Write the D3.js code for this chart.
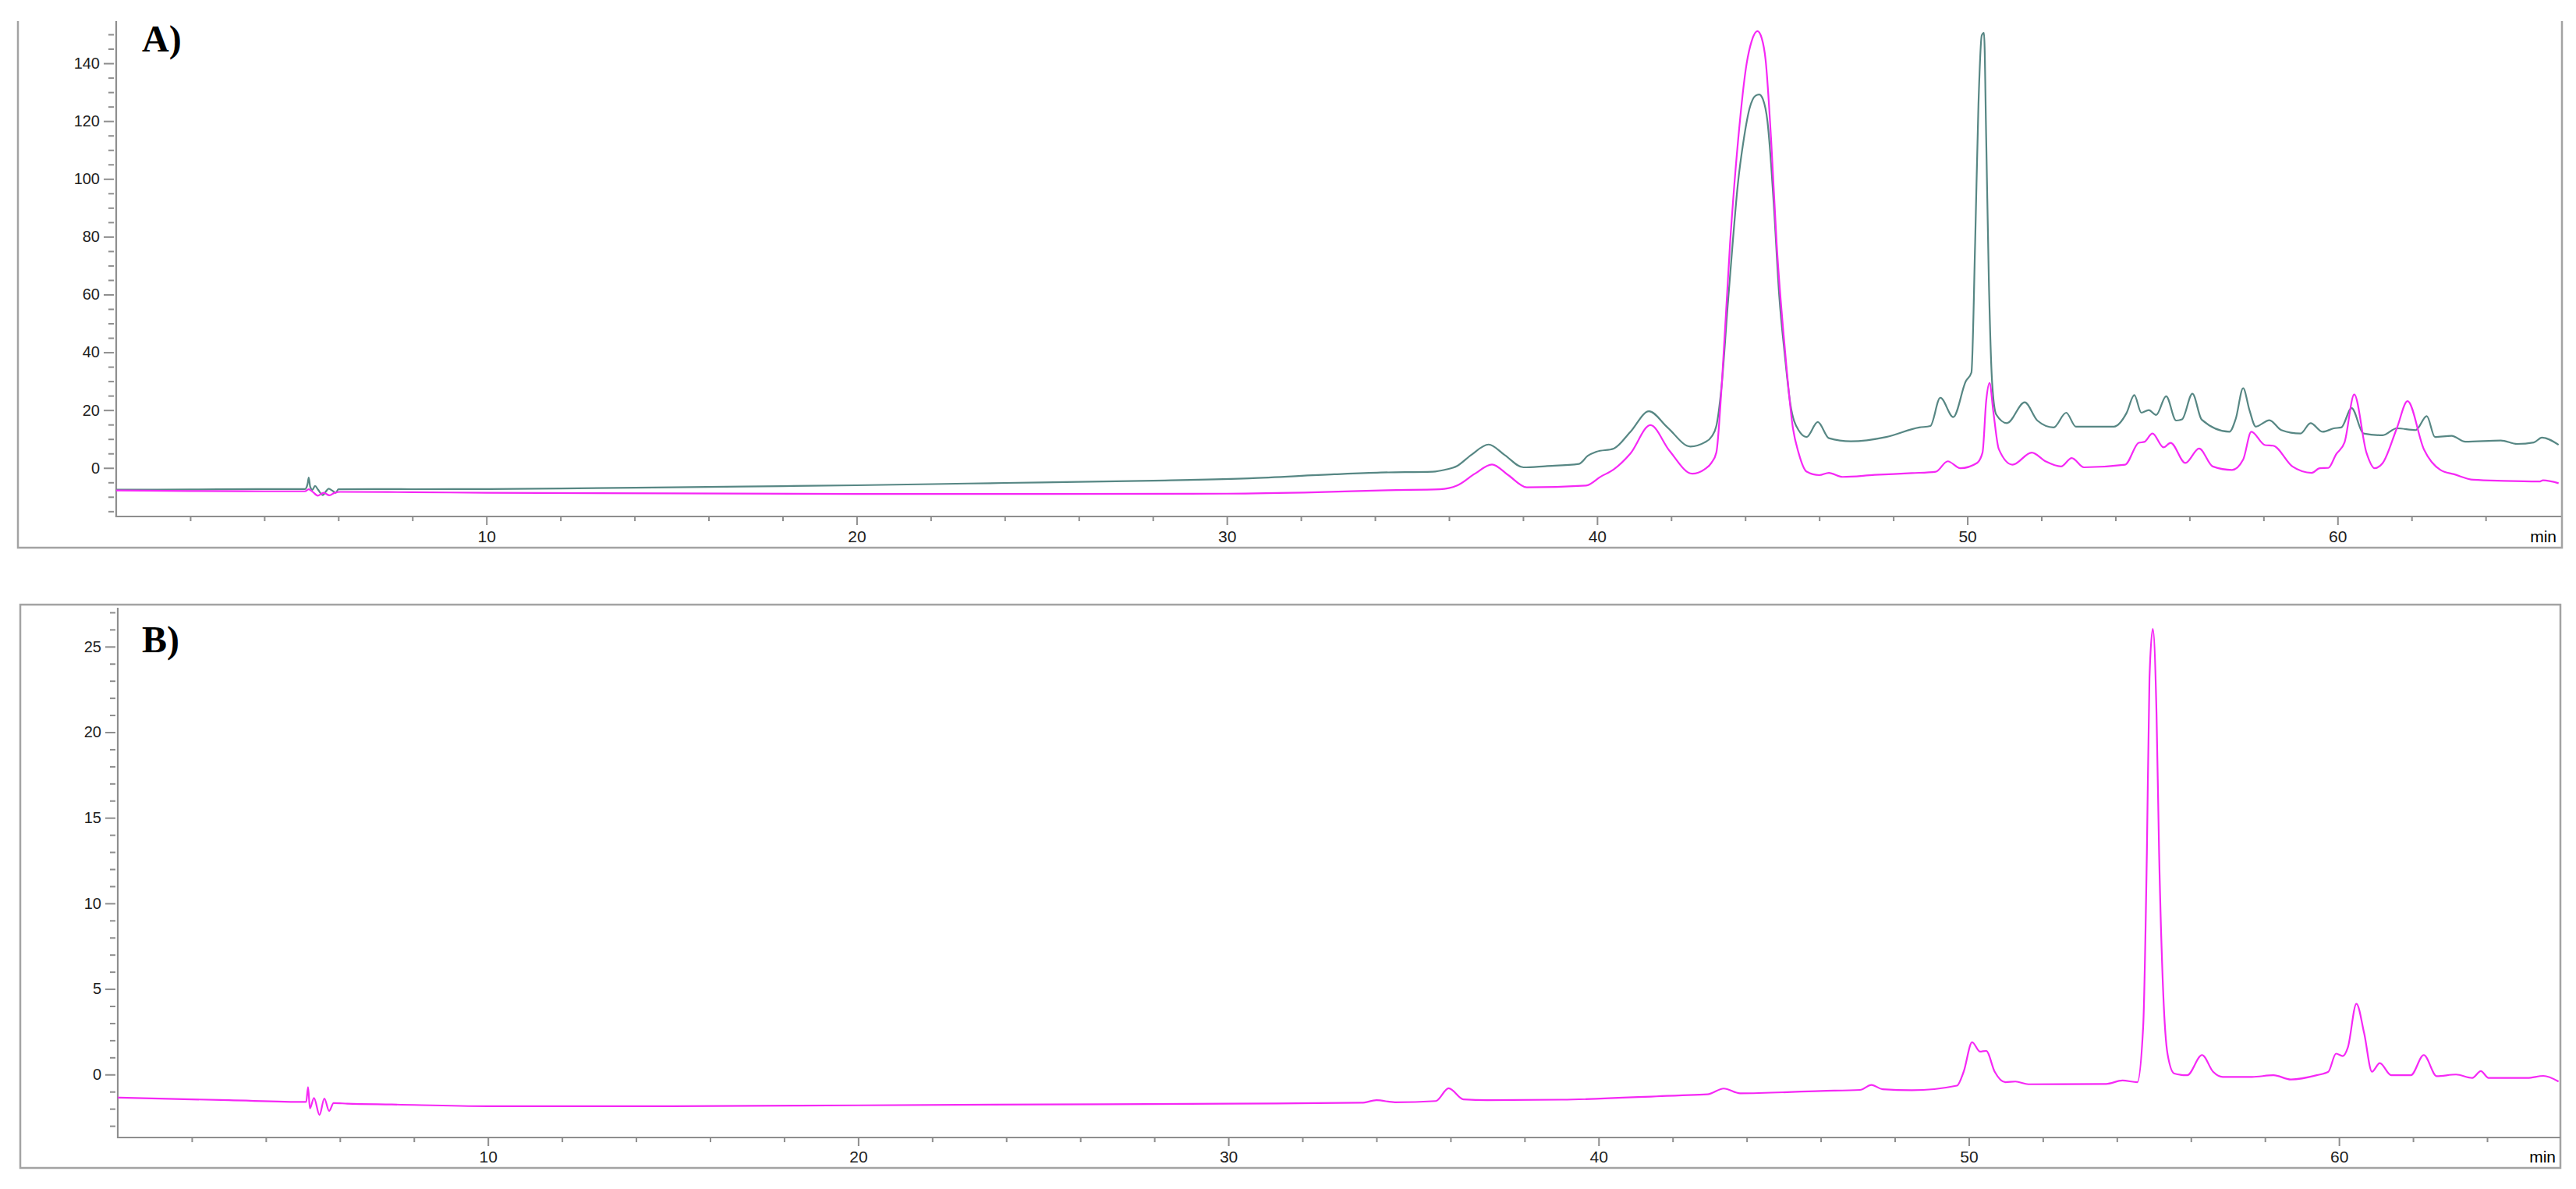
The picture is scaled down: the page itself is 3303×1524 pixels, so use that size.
<!DOCTYPE html>
<html>
<head>
<meta charset="utf-8">
<script src="https://cdn.jsdelivr.net/npm/d3@7"></script>
<style>
  body { margin: 0; background: #fff; }
  svg { display: block; }
</style>
</head>
<body>
<script>
// chromatogram A, teal trace [min, value]
var traceA_teal = [[0,-7.5],[2,-7.45],[4,-7.3],[5.1,-7.3],[5.17,-5.5],[5.2,-3.3],[5.24,-6.5],[5.3,-7.6],[5.37,-6.2],[5.45,-7.5],[5.58,-9.4],[5.66,-8.2],[5.74,-7.2],[5.83,-7.8],[5.93,-8.6],[6.0,-7.4],[7,-7.3],[8,-7.35],[10,-7.3],[12,-7.1],[15,-6.7],[18,-6.3],[20,-6.0],[23,-5.4],[25,-5.0],[28,-4.4],[30.6,-3.6],[32.9,-2.2],[34.15,-1.6],[35.56,-1.3],[35.9,-0.6],[36.22,0.7],[36.6,4.5],[37.07,8.1],[37.5,4.5],[38.01,0.2],[38.6,0.6],[39.51,1.4],[39.75,4.2],[39.98,5.6],[40.45,6.7],[40.9,12.5],[41.4,19.6],[41.9,14],[42.52,7.4],[42.9,8.8],[43.09,10.8],[43.22,14.5],[43.37,29.4],[43.52,55],[43.66,77.5],[43.8,98],[43.96,113.6],[44.12,124.5],[44.28,128.8],[44.38,129.2],[44.48,127.5],[44.6,120],[44.7,105],[44.78,89.5],[44.92,59.4],[45.07,39],[45.22,22.1],[45.44,13.1],[45.66,10.7],[45.96,15.9],[46.26,10.3],[46.85,9.2],[47.81,10.7],[48.7,14],[49.0,14.5],[49.27,24.3],[49.62,17.6],[49.96,30],[50.11,33],[50.21,77.5],[50.3,125.6],[50.39,149.7],[50.45,150.5],[50.51,113.6],[50.58,65.5],[50.67,29.4],[50.78,18.5],[51.07,15.5],[51.55,22.7],[51.89,16.4],[52.33,14],[52.67,19.1],[52.93,14.3],[53.96,14.3],[54.3,19],[54.51,25.2],[54.7,19.1],[54.9,20],[55.1,18.3],[55.37,24.8],[55.64,16.4],[55.8,16.8],[56.08,25.7],[56.33,16.7],[57.08,12.5],[57.25,17],[57.45,27.6],[57.62,20],[57.79,14.3],[58.16,16.5],[58.48,13.1],[59.0,11.9],[59.27,15.5],[59.6,12.5],[59.9,13.7],[60.1,14],[60.38,20.7],[60.7,11.9],[61.22,11.3],[61.6,13.7],[62.11,13.1],[62.41,17.9],[62.63,10.7],[63.08,11.1],[63.45,9.1],[64.41,9.5],[64.85,8.3],[65.3,8.8],[65.52,10.5],[65.97,8.0]];

// chromatogram A, magenta trace
var traceA_magenta = [[0,-7.8],[2,-8.0],[4,-8.1],[5.1,-8.1],[5.2,-7.4],[5.3,-8.2],[5.45,-9.6],[5.6,-8.6],[5.76,-9.5],[5.9,-8.6],[6.05,-8.3],[8,-8.4],[10,-8.6],[15,-8.8],[20,-9.0],[25,-9.0],[30,-8.9],[32.46,-8.4],[34.34,-7.7],[35.75,-7.4],[36.22,-6.1],[36.7,-2],[37.16,1.2],[37.6,-2.5],[38.1,-6.7],[39.7,-6.1],[40.1,-3],[40.45,-0.5],[40.9,5],[41.44,14.8],[41.95,6],[42.57,-2.0],[42.9,-0.5],[43.09,1.8],[43.22,5.3],[43.37,29.4],[43.59,77.5],[43.81,113.6],[44.04,140],[44.17,147.5],[44.33,151.1],[44.45,148.5],[44.55,141.3],[44.7,113.6],[44.85,77.5],[45.07,41.4],[45.29,13.7],[45.44,5.3],[45.66,-1.3],[46.0,-2.5],[46.26,-1.7],[46.63,-3.1],[47.5,-2.4],[48.5,-1.8],[49.15,-1.3],[49.47,2.3],[49.81,-0.1],[50.26,1.7],[50.41,5.3],[50.51,23.3],[50.6,29.4],[50.7,19.7],[50.85,6.5],[51.22,1.1],[51.74,5.3],[52.11,2.3],[52.53,0.5],[52.82,3.4],[53.15,0.2],[54.26,1.1],[54.63,8.7],[54.78,9],[55.0,11.9],[55.3,7.1],[55.49,8.7],[55.89,1.7],[56.26,6.7],[56.63,0.5],[57.15,-0.7],[57.45,2.9],[57.67,12.5],[58.04,7.9],[58.26,7.7],[58.78,0.5],[59.3,-1.7],[59.52,-0.1],[59.75,0],[59.96,4.7],[60.19,8.9],[60.45,25.4],[60.78,5.3],[61.0,-0.1],[61.22,1.7],[61.6,13.7],[61.89,23.1],[62.33,6.5],[62.78,-0.7],[63.15,-2.2],[63.67,-4.1],[64.5,-4.5],[65.45,-4.7],[65.55,-4.3],[65.97,-5.3]];

// chromatogram B, magenta trace
var traceB_magenta = [[0,-1.35],[3,-1.5],[5.09,-1.6],[5.14,-0.73],[5.19,-1.98],[5.3,-1.37],[5.45,-2.36],[5.58,-1.4],[5.71,-2.13],[5.83,-1.67],[6.2,-1.7],[7.4,-1.75],[10,-1.85],[15,-1.85],[20,-1.8],[25,-1.75],[30,-1.7],[33.6,-1.65],[34.0,-1.5],[34.5,-1.62],[35.6,-1.55],[35.95,-0.8],[36.35,-1.45],[37,-1.5],[39.0,-1.47],[42.16,-1.22],[42.94,-1.16],[43.38,-0.82],[43.82,-1.1],[46.0,-0.96],[47.06,-0.9],[47.37,-0.61],[47.67,-0.86],[48.46,-0.92],[49.68,-0.65],[49.86,0.16],[50.09,1.89],[50.3,1.34],[50.47,1.38],[50.7,0.16],[50.99,-0.45],[51.26,-0.41],[51.61,-0.57],[53.71,-0.55],[54.15,-0.35],[54.55,-0.45],[54.71,2.8],[54.81,12.97],[54.88,23.14],[54.97,26.03],[55.07,21.11],[55.14,12.97],[55.25,4.84],[55.37,1.18],[55.55,0.06],[55.9,-0.04],[56.3,1.14],[56.6,0.16],[56.86,-0.14],[57.65,-0.14],[58.23,-0.04],[58.7,-0.29],[59.4,-0.04],[59.71,0.16],[59.92,1.22],[60.1,1.08],[60.24,1.59],[60.47,4.13],[60.68,2.4],[60.89,0.16],[61.1,0.67],[61.41,-0.04],[61.94,-0.04],[62.29,1.14],[62.64,-0.1],[63.16,0.0],[63.6,-0.2],[63.83,0.2],[64.04,-0.2],[65.09,-0.2],[65.52,-0.08],[65.93,-0.41]];

var xMajorTicks = [10, 20, 30, 40, 50, 60];
var xMinorTicks = [2, 4, 6, 8, 12, 14, 16, 18, 22, 24, 26, 28, 32, 34, 36, 38, 42, 44, 46, 48, 52, 54, 56, 58, 62, 64];
var yMajorTicksA = [0, 20, 40, 60, 80, 100, 120, 140];
var yMinorTicksA = [-15, -10, -5, 5, 10, 15, 25, 30, 35, 45, 50, 55, 65, 70, 75, 85, 90, 95, 105, 110, 115, 125, 130, 135, 145, 150];
var yMajorTicksB = [0, 5, 10, 15, 20, 25];
var yMinorTicksB = [-3, -2, -1, 1, 2, 3, 4, 6, 7, 8, 9, 11, 12, 13, 14, 16, 17, 18, 19, 21, 22, 23, 24, 26, 27];

var W = 3303, H = 1524;
var frameColor = "#a3a3a3", axisColor = "#8e8e8e";
var tealColor = "#578784", magentaColor = "#f528f5";

var svg = d3.select("body").append("svg")
  .attr("width", W)
  .attr("height", H)
  .style("background", "#fff");

function drawPanel(p) {
  var g = svg.append("g");

  // outer frame (panel A has its top edge cut off)
  var fr = p.frame;
  var framePath = fr.top == null
    ? "M" + fr.left + "," + fr.topOpen + "V" + fr.bottom + "H" + fr.right + "V" + fr.topOpen
    : "M" + fr.left + "," + fr.top + "V" + fr.bottom + "H" + fr.right + "V" + fr.top + "Z";
  g.append("path")
    .attr("d", framePath)
    .attr("fill", "none")
    .attr("stroke", frameColor)
    .attr("stroke-width", 2.5);

  var x = d3.scaleLinear().domain(p.xDomain).range([p.left, p.right]);
  var y = d3.scaleLinear().domain(p.yDomain).range([p.bottom, p.top]);

  // axis lines
  g.append("path")
    .attr("d", "M" + p.left + "," + p.top + "V" + p.bottom + "H" + p.right)
    .attr("fill", "none")
    .attr("stroke", axisColor)
    .attr("stroke-width", 2.2);

  // y ticks
  var yMinor = g.append("g").attr("transform", "translate(" + (p.left - 3) + ",0)")
    .call(d3.axisLeft(y).tickValues(p.yMinor).tickSize(7).tickFormat(""));
  var yMajor = g.append("g").attr("transform", "translate(" + (p.left - 3) + ",0)")
    .call(d3.axisLeft(y).tickValues(p.yMajor).tickSize(13).tickPadding(5));

  // x ticks
  var xMinor = g.append("g").attr("transform", "translate(0," + p.bottom + ")")
    .call(d3.axisBottom(x).tickValues(xMinorTicks).tickSize(6).tickFormat(""));
  var xMajor = g.append("g").attr("transform", "translate(0," + p.bottom + ")")
    .call(d3.axisBottom(x).tickValues(xMajorTicks).tickSize(11).tickPadding(p.xPad));

  [yMinor, yMajor, xMinor, xMajor].forEach(function(a) {
    a.select(".domain").remove();
    a.selectAll(".tick line").attr("stroke", axisColor).attr("stroke-width", 2);
    a.selectAll(".tick text")
      .attr("font-family", "Liberation Sans, Arial, sans-serif")
      .attr("fill", "#1e1e1e");
  });
  yMajor.selectAll(".tick text").attr("font-size", "20px");
  xMajor.selectAll(".tick text").attr("font-size", "21px");

  g.append("text")
    .attr("x", p.right - 6)
    .attr("y", p.minY)
    .attr("text-anchor", "end")
    .attr("font-family", "Liberation Sans, Arial, sans-serif")
    .attr("font-size", "21px")
    .attr("fill", "#000")
    .text("min");

  // panel letter
  g.append("text")
    .attr("x", 182)
    .attr("y", p.letterY)
    .attr("font-family", "Liberation Serif, Times New Roman, serif")
    .attr("font-weight", "bold")
    .attr("font-size", "48px")
    .attr("fill", "#000")
    .text(p.letter);

  var line = d3.line()
    .x(function(d) { return x(d[0]); })
    .y(function(d) { return y(d[1]); })
    .curve(d3.curveMonotoneX);

  p.series.forEach(function(s) {
    g.append("path")
      .datum(s.data)
      .attr("d", line)
      .attr("fill", "none")
      .attr("stroke", s.color)
      .attr("stroke-width", 2.2)
      .attr("stroke-linejoin", "round");
  });
}

drawPanel({
  frame: {left: 23, right: 3285, bottom: 702, topOpen: 27, top: null},
  left: 149, right: 3284, top: 27, bottom: 662,
  xDomain: [0, 66.04], yDomain: [-16.8, 154.6],
  yMajor: yMajorTicksA, yMinor: yMinorTicksA,
  xPad: 7, minY: 695,
  letter: "A)", letterY: 66,
  series: [
    {data: traceA_teal, color: tealColor},
    {data: traceA_magenta, color: magentaColor}
  ]
});

drawPanel({
  frame: {left: 26, right: 3283, bottom: 1497, top: 775},
  left: 151, right: 3283, top: 779, bottom: 1458,
  xDomain: [0, 65.98], yDomain: [-3.68, 27.27],
  yMajor: yMajorTicksB, yMinor: yMinorTicksB,
  xPad: 6, minY: 1490,
  letter: "B)", letterY: 836,
  series: [
    {data: traceB_magenta, color: magentaColor}
  ]
});
</script>
</body>
</html>
